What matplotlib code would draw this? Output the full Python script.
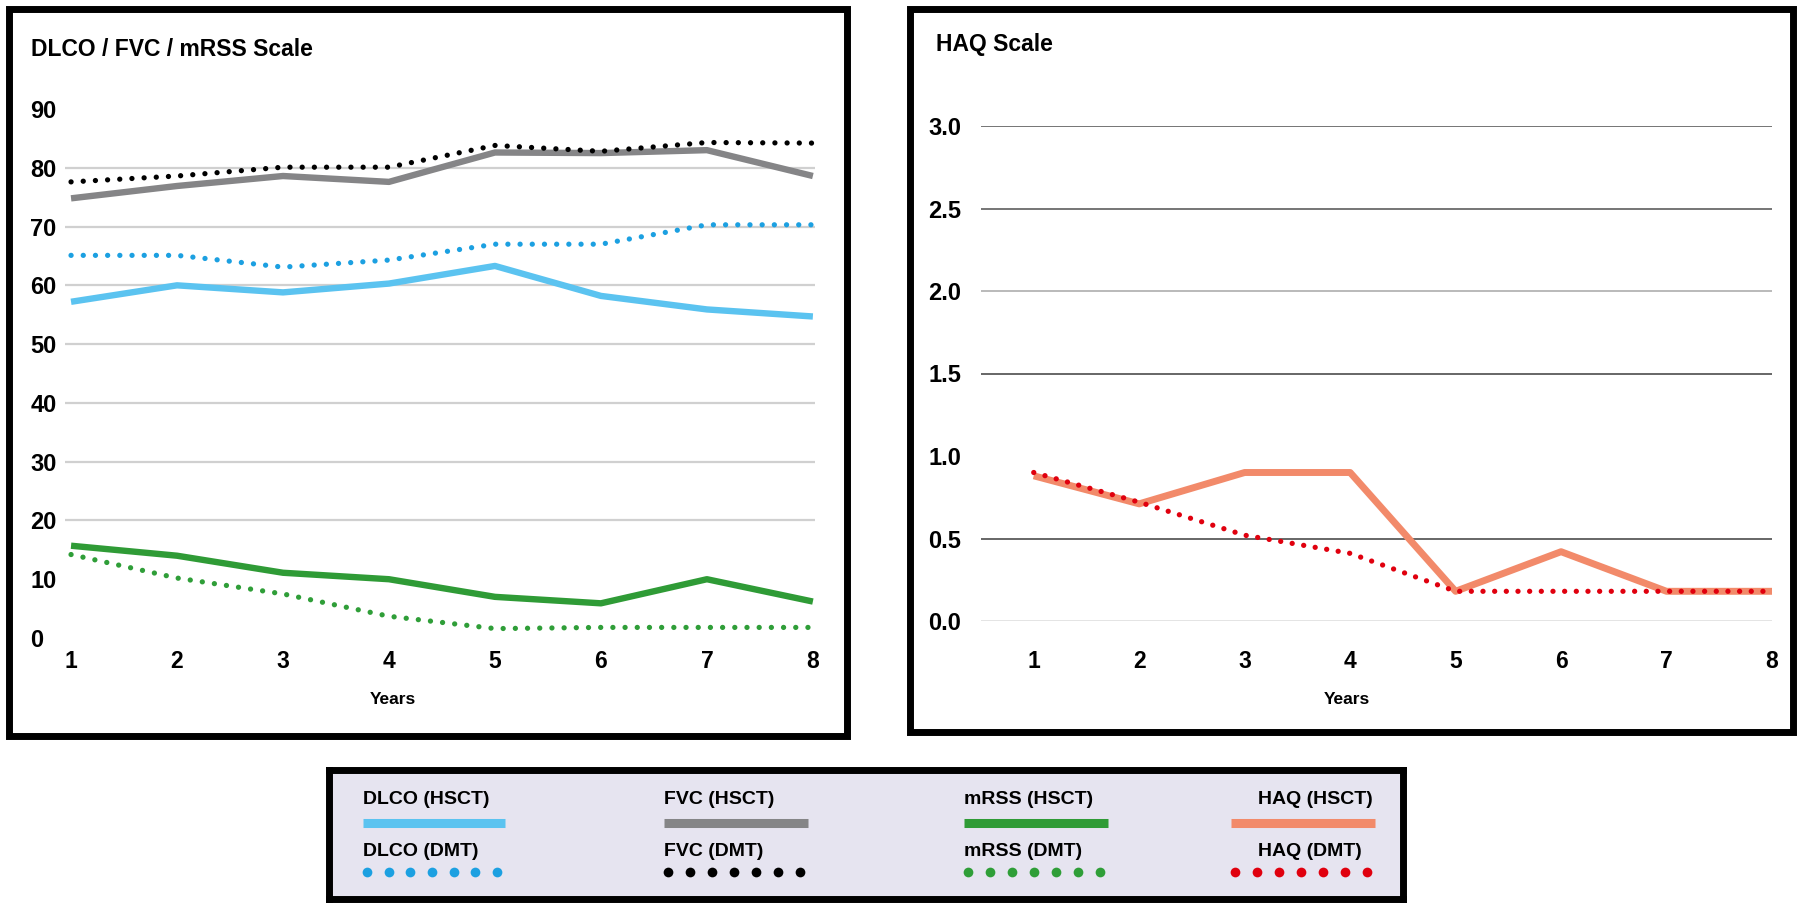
import numpy as np
import matplotlib
matplotlib.use("Agg")
import matplotlib.pyplot as plt
from matplotlib.patches import Rectangle

plt.rcParams["font.family"] = ["Liberation Sans", "DejaVu Sans"]

# Data
years = [1, 2, 3, 4, 5, 6, 7, 8]
dlco_hsct = [57.2, 60.0, 58.8, 60.3, 63.3, 58.2, 55.9, 54.7]
dlco_dmt = [65.1, 65.1, 63.1, 64.3, 67.0, 67.0, 70.3, 70.3]
fvc_hsct = [74.8, 76.9, 78.6, 77.6, 82.6, 82.5, 83.0, 78.6]
fvc_dmt = [77.6, 78.6, 80.1, 80.1, 83.8, 82.8, 84.3, 84.2]
mrss_hsct = [15.7, 14.0, 11.1, 10.0, 7.0, 5.9, 10.0, 6.2]
mrss_dmt = [14.2, 10.2, 7.5, 3.7, 1.6, 1.8, 1.8, 1.8]
haq_hsct = [0.88, 0.71, 0.90, 0.90, 0.18, 0.42, 0.18, 0.18]
haq_dmt = [0.90, 0.72, 0.52, 0.41, 0.18, 0.18, 0.18, 0.18]

left_yticks = [0, 10, 20, 30, 40, 50, 60, 70, 80, 90]
left_grid = [20, 30, 40, 50, 60, 70, 80]
right_yticks = [0.0, 0.5, 1.0, 1.5, 2.0, 2.5, 3.0]
right_grid = {3.0: "#6a6a6a", 2.5: "#6a6a6a", 2.0: "#b4b4b4", 1.5: "#5a5a5a",
              0.5: "#5a5a5a", 0.0: "#e2e2e2"}

legend_labels = [("DLCO (HSCT)", "DLCO (DMT)"), ("FVC (HSCT)", "FVC (DMT)"),
                 ("mRSS (HSCT)", "mRSS (DMT)"), ("HAQ (HSCT)", "HAQ (DMT)")]

c_dlco, c_dlco_d = "#5BC3F0", "#1CA0E1"
c_fvc, c_fvc_d = "#858587", "#000000"
c_mrss, c_mrss_d = "#2F9B36", "#2F9E38"
c_haq, c_haq_d = "#F28A6A", "#E0000E"

W, H = 1800, 906
fig = plt.figure(figsize=(W / 100, H / 100), dpi=100)


def rect(x0, y0, x1, y1):
    # pixel box (top-left origin) -> figure fraction
    return [x0 / W, 1 - y1 / H, (x1 - x0) / W, (y1 - y0) / H]


def ftext(x, y, s, **kw):
    fig.text(x / W, 1 - y / H, s, **kw)


# panel frames
for x0, y0, x1, y1 in [(9, 9, 847, 736), (910, 9, 1793, 732)]:
    fig.patches.append(Rectangle((x0 / W, 1 - y1 / H), (x1 - x0) / W, (y1 - y0) / H,
                                 transform=fig.transFigure, fill=False,
                                 edgecolor="black", lw=5, zorder=0))

solid = dict(solid_capstyle="butt", clip_on=False, zorder=3)


def dotted(ax, x, y, color, lw, gap):
    ax.plot(x, y, color=color, lw=lw, dashes=(0.01, gap),
            dash_capstyle="round", clip_on=False, zorder=4)


# left panel
ax1 = fig.add_axes(rect(65, 109, 815, 638))
ax1.set_xlim(0.943, 8.02)
ax1.set_ylim(0, 90)
for g in left_grid:
    ax1.axhline(g, color="#d0d0d0", lw=1.6, zorder=1)
ax1.plot(years, fvc_hsct, color=c_fvc, lw=4.6, **solid)
ax1.plot(years, dlco_hsct, color=c_dlco, lw=4.6, **solid)
ax1.plot(years, mrss_hsct, color=c_mrss, lw=4.6, **solid)
dotted(ax1, years, fvc_dmt, c_fvc_d, 3.8, 2.3)
dotted(ax1, years, dlco_dmt, c_dlco_d, 3.8, 2.3)
dotted(ax1, years, mrss_dmt, c_mrss_d, 3.8, 2.3)
ax1.set_yticks(left_yticks)
ax1.set_yticklabels([str(v) for v in left_yticks])
ax1.tick_params(axis="y", length=0, pad=25, labelsize=17)
ax1.tick_params(axis="x", length=0, pad=9, labelsize=16.5)
for lab in ax1.get_yticklabels():
    lab.set_ha("left")
    lab.set_fontweight("bold")
ax1.set_xticks(years)
for lab in ax1.get_xticklabels():
    lab.set_fontweight("bold")
for s in ax1.spines.values():
    s.set_visible(False)

# right panel
ax2 = fig.add_axes(rect(981, 126, 1772, 621))
ax2.set_xlim(0.5, 8.0)
ax2.set_ylim(0, 3.0)
for g, col in right_grid.items():
    ax2.axhline(g, color=col, lw=1.3, zorder=1)
ax2.plot(years, haq_hsct, color=c_haq, lw=5.0, **solid)
dotted(ax2, years, haq_dmt, c_haq_d, 3.8, 2.2)
ax2.set_yticks(right_yticks)
ax2.set_yticklabels([f"{v:.1f}" for v in right_yticks])
ax2.tick_params(axis="y", length=0, pad=38, labelsize=17)
ax2.tick_params(axis="x", length=0, pad=21, labelsize=16.5)
for lab in ax2.get_yticklabels():
    lab.set_ha("left")
    lab.set_fontweight("bold")
ax2.set_xticks(years)
for lab in ax2.get_xticklabels():
    lab.set_fontweight("bold")
for s in ax2.spines.values():
    s.set_visible(False)

# titles and axis names
ftext(31, 49, "DLCO / FVC / mRSS Scale", fontsize=16.5, fontweight="bold", va="center")
ftext(936, 45, "HAQ Scale", fontsize=16.5, fontweight="bold", va="center")
ftext(393, 700, "Years", fontsize=12.5, fontweight="bold", ha="center", va="center")
ftext(1347, 700, "Years", fontsize=12.5, fontweight="bold", ha="center", va="center")

# legend box
axl = fig.add_axes(rect(329, 770, 1403, 899))
axl.set_xlim(329, 1403)
axl.set_ylim(899, 770)
axl.set_facecolor("#E6E4F0")
axl.set_xticks([])
axl.set_yticks([])
for s in axl.spines.values():
    s.set_linewidth(5)
    s.set_edgecolor("black")

leg_cols = [(363, 505, 363, c_dlco, c_dlco_d), (664, 808, 664, c_fvc, c_fvc_d),
            (964, 1108, 964, c_mrss, c_mrss_d), (1231, 1375, 1258, c_haq, c_haq_d)]
for (x0, x1, tx, col, cold), (lab1, lab2) in zip(leg_cols, legend_labels):
    axl.text(tx, 800, lab1, fontsize=14, fontweight="bold", va="center")
    axl.plot([x0, x1], [823, 823], color=col, lw=6.5, solid_capstyle="butt")
    axl.text(tx, 851, lab2, fontsize=14, fontweight="bold", va="center")
    axl.plot(np.linspace(x0 + 4, x1 - 8, 7), [872] * 7, "o", color=cold,
             markersize=7, markeredgewidth=0)

fig.savefig("out.png", dpi=100)
